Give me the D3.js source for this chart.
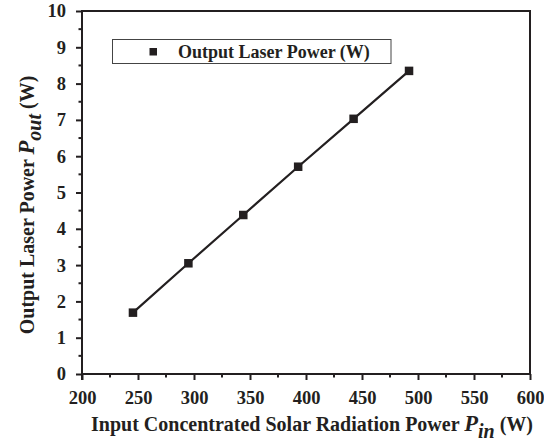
<!DOCTYPE html>
<html>
<head>
<meta charset="utf-8">
<script src="https://cdn.jsdelivr.net/npm/d3@7"></script>
<style>
  html, body { margin: 0; padding: 0; background: #fff; }
  svg text { font-family: "Liberation Serif", "Times New Roman", serif; font-weight: bold; fill: #231f20; }
</style>
</head>
<body>
<svg id="chart" width="544" height="445"></svg>
<script>
// Input concentrated solar power (W) and measured laser output (W)
const inputPower = [245.5, 295, 344, 393, 442.5, 492];
const outputPower = [1.69, 3.05, 4.38, 5.71, 7.03, 8.35];
const seriesName = "Output Laser Power (W)";
const xTicks = [200, 250, 300, 350, 400, 450, 500, 550, 600];
const yTicks = [0, 1, 2, 3, 4, 5, 6, 7, 8, 9, 10];

const ink = "#231f20";
const svg = d3.select("#chart");
const plot = { left: 82, right: 530, top: 11, bottom: 374 };

const x = d3.scaleLinear().domain([200, 600]).range([plot.left, plot.right]);
const y = d3.scaleLinear().domain([0, 10]).range([plot.bottom, plot.top]);

// Frame: top and right edges without ticks
svg.append("path")
  .attr("d", `M${plot.left},${plot.top}H${plot.right}V${plot.bottom}`)
  .attr("fill", "none").attr("stroke", ink).attr("stroke-width", 2);

// Minor tick positions
const xMinor = d3.range(225, 600, 50);
const yMinor = d3.range(0.5, 10, 1);

const xAxis = svg.append("g").attr("transform", `translate(0,${plot.bottom})`)
  .call(d3.axisBottom(x).tickValues(xTicks).tickSize(6).tickPadding(11).tickFormat(d3.format("d")));
svg.append("g").selectAll("line").data(xMinor).join("line")
  .attr("x1", d => x(d)).attr("x2", d => x(d))
  .attr("y1", plot.bottom).attr("y2", plot.bottom + 3.5)
  .attr("stroke", ink).attr("stroke-width", 2);

const yAxis = svg.append("g").attr("transform", `translate(${plot.left},0)`)
  .call(d3.axisLeft(y).tickValues(yTicks).tickSize(6).tickPadding(10).tickFormat(d3.format("d")));
svg.append("g").selectAll("line").data(yMinor).join("line")
  .attr("x1", plot.left - 3.5).attr("x2", plot.left)
  .attr("y1", d => y(d)).attr("y2", d => y(d))
  .attr("stroke", ink).attr("stroke-width", 2);

[xAxis, yAxis].forEach(g => {
  g.select(".domain").attr("stroke", ink).attr("stroke-width", 2);
  g.selectAll(".tick line").attr("stroke", ink).attr("stroke-width", 2);
  g.selectAll(".tick text").attr("font-size", 18.5).attr("fill", ink)
    .style("font-family", '"Liberation Serif", serif').style("font-weight", "bold");
});
// extend the axis lines into the corner
xAxis.select(".domain").attr("d", `M${plot.left - 1},0H${plot.right + 1}`);
yAxis.select(".domain").attr("d", `M0,${plot.top - 1}V${plot.bottom + 6}`);

// Data line and square markers
const pts = inputPower.map((v, i) => [v, outputPower[i]]);
svg.append("path").datum(pts)
  .attr("d", d3.line().x(d => x(d[0])).y(d => y(d[1])))
  .attr("fill", "none").attr("stroke", ink).attr("stroke-width", 2.2);
const ms = 8.5;
svg.append("g").selectAll("rect").data(pts).join("rect")
  .attr("x", d => x(d[0]) - ms / 2).attr("y", d => y(d[1]) - ms / 2)
  .attr("width", ms).attr("height", ms).attr("fill", ink);

// Legend
const lg = svg.append("g");
lg.append("rect").attr("x", 112.5).attr("y", 39.5).attr("width", 278.5).attr("height", 24)
  .attr("fill", "#fff").attr("stroke", "#444").attr("stroke-width", 1);
lg.append("rect").attr("x", 149.5).attr("y", 48).attr("width", 7.5).attr("height", 7.5).attr("fill", ink);
lg.append("text").attr("x", 178).attr("y", 57.5).attr("font-size", 18).text(seriesName);

// Axis titles
const xt = svg.append("text").attr("x", 312).attr("y", 431).attr("text-anchor", "middle").attr("font-size", 20);
xt.append("tspan").text("Input Concentrated Solar Radiation Power ");
xt.append("tspan").attr("font-style", "italic").attr("font-size", 22.5).text("P");
xt.append("tspan").attr("font-style", "italic").attr("font-size", 20).attr("dy", 7).text("in");
xt.append("tspan").attr("dy", -7).text(" (W)");

const yt = svg.append("text").attr("transform", "translate(34,205) rotate(-90)")
  .attr("text-anchor", "middle").attr("font-size", 20);
yt.append("tspan").text("Output Laser Power ");
yt.append("tspan").attr("font-style", "italic").attr("font-size", 22.5).text("P");
yt.append("tspan").attr("font-style", "italic").attr("font-size", 20).attr("dy", 7).text("out");
yt.append("tspan").attr("dy", -7).text(" (W)");
</script>
</body>
</html>
